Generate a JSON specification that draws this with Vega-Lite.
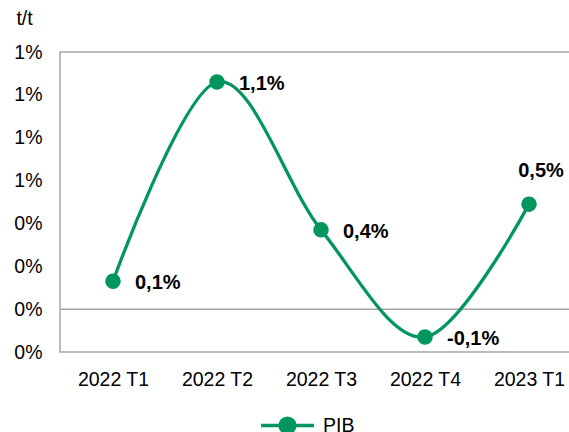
{
  "$schema": "https://vega.github.io/schema/vega-lite/v6.json",
  "width": 511,
  "height": 300,
  "autosize": {"type": "none"},
  "padding": {"left": 60, "top": 52, "right": 0, "bottom": 80},
  "config": {
    "font": "Liberation Sans",
    "view": {"stroke": "#a6a6a6", "strokeWidth": 1.5}
  },
  "data": {
    "values": [
      {"q": "2022 T1", "v": 0.13, "lbl": "0,1%", "s": "PIB"},
      {"q": "2022 T2", "v": 1.06, "lbl": "1,1%", "s": "PIB"},
      {"q": "2022 T3", "v": 0.37, "lbl": "0,4%", "s": "PIB"},
      {"q": "2022 T4", "v": -0.13, "lbl": "-0,1%", "s": "PIB"},
      {"q": "2023 T1", "v": 0.49, "lbl": "0,5%", "s": "PIB"}
    ]
  },
  "layer": [
    {
      "data": {"values": [{"z": 0}]},
      "mark": {"type": "rule", "color": "#a6a6a6", "strokeWidth": 1.5},
      "encoding": {"y": {"field": "z", "type": "quantitative"}}
    },
    {
      "mark": {"type": "line", "interpolate": "cardinal", "strokeWidth": 3.3},
      "encoding": {
        "x": {"field": "q", "type": "ordinal", "sort": null, "scale": {"type": "point", "range": [53, 469], "padding": 0},
          "axis": {"title": null, "domain": false, "ticks": false, "labelAngle": 0, "labelFontSize": 19.5, "labelColor": "#000000", "labelPadding": 18}},
        "y": {"field": "v", "type": "quantitative", "scale": {"domain": [-0.2, 1.2], "nice": false},
          "axis": {"title": "t/t", "titleAngle": 0, "titleX": -36, "titleY": -34, "titleAlign": "center", "titleBaseline": "middle", "titleFontSize": 19.5, "titleFontWeight": "normal", "titleColor": "#000000",
            "domain": false, "ticks": false, "grid": false, "values": [-0.2, 0, 0.2, 0.4, 0.6, 0.8, 1.0, 1.2], "labelExpr": "round(datum.value) + '%'", "labelFontSize": 19.5, "labelColor": "#000000", "labelPadding": 18}},
        "color": {"field": "s", "type": "nominal", "scale": {"range": ["#00965e"]},
          "legend": {"title": null, "orient": "none", "legendX": 199, "legendY": 345, "symbolType": "M-1,0H1M0.28,0A0.28,0.28 0 1,1 -0.28,0A0.28,0.28 0 1,1 0.28,0Z", "symbolSize": 2800, "symbolStrokeWidth": 3.3, "symbolFillColor": "#00965e", "symbolStrokeColor": "#00965e", "labelFontSize": 19.5, "labelColor": "#000000", "labelOffset": 7}}
      }
    },
    {
      "mark": {"type": "point", "filled": true, "size": 240, "opacity": 1},
      "encoding": {
        "x": {"field": "q", "type": "ordinal", "sort": null},
        "y": {"field": "v", "type": "quantitative"},
        "color": {"field": "s", "type": "nominal"}
      }
    },
    {
      "transform": [{"filter": "datum.q != '2023 T1'"}],
      "mark": {"type": "text", "align": "left", "baseline": "middle", "dx": 22, "dy": 2, "fontSize": 20, "fontWeight": "bold", "color": "#000000"},
      "encoding": {
        "x": {"field": "q", "type": "ordinal", "sort": null},
        "y": {"field": "v", "type": "quantitative"},
        "text": {"field": "lbl"}
      }
    },
    {
      "transform": [{"filter": "datum.q == '2023 T1'"}],
      "mark": {"type": "text", "align": "center", "baseline": "middle", "dx": 12, "dy": -33, "fontSize": 20, "fontWeight": "bold", "color": "#000000"},
      "encoding": {
        "x": {"field": "q", "type": "ordinal", "sort": null},
        "y": {"field": "v", "type": "quantitative"},
        "text": {"field": "lbl"}
      }
    }
  ]
}
